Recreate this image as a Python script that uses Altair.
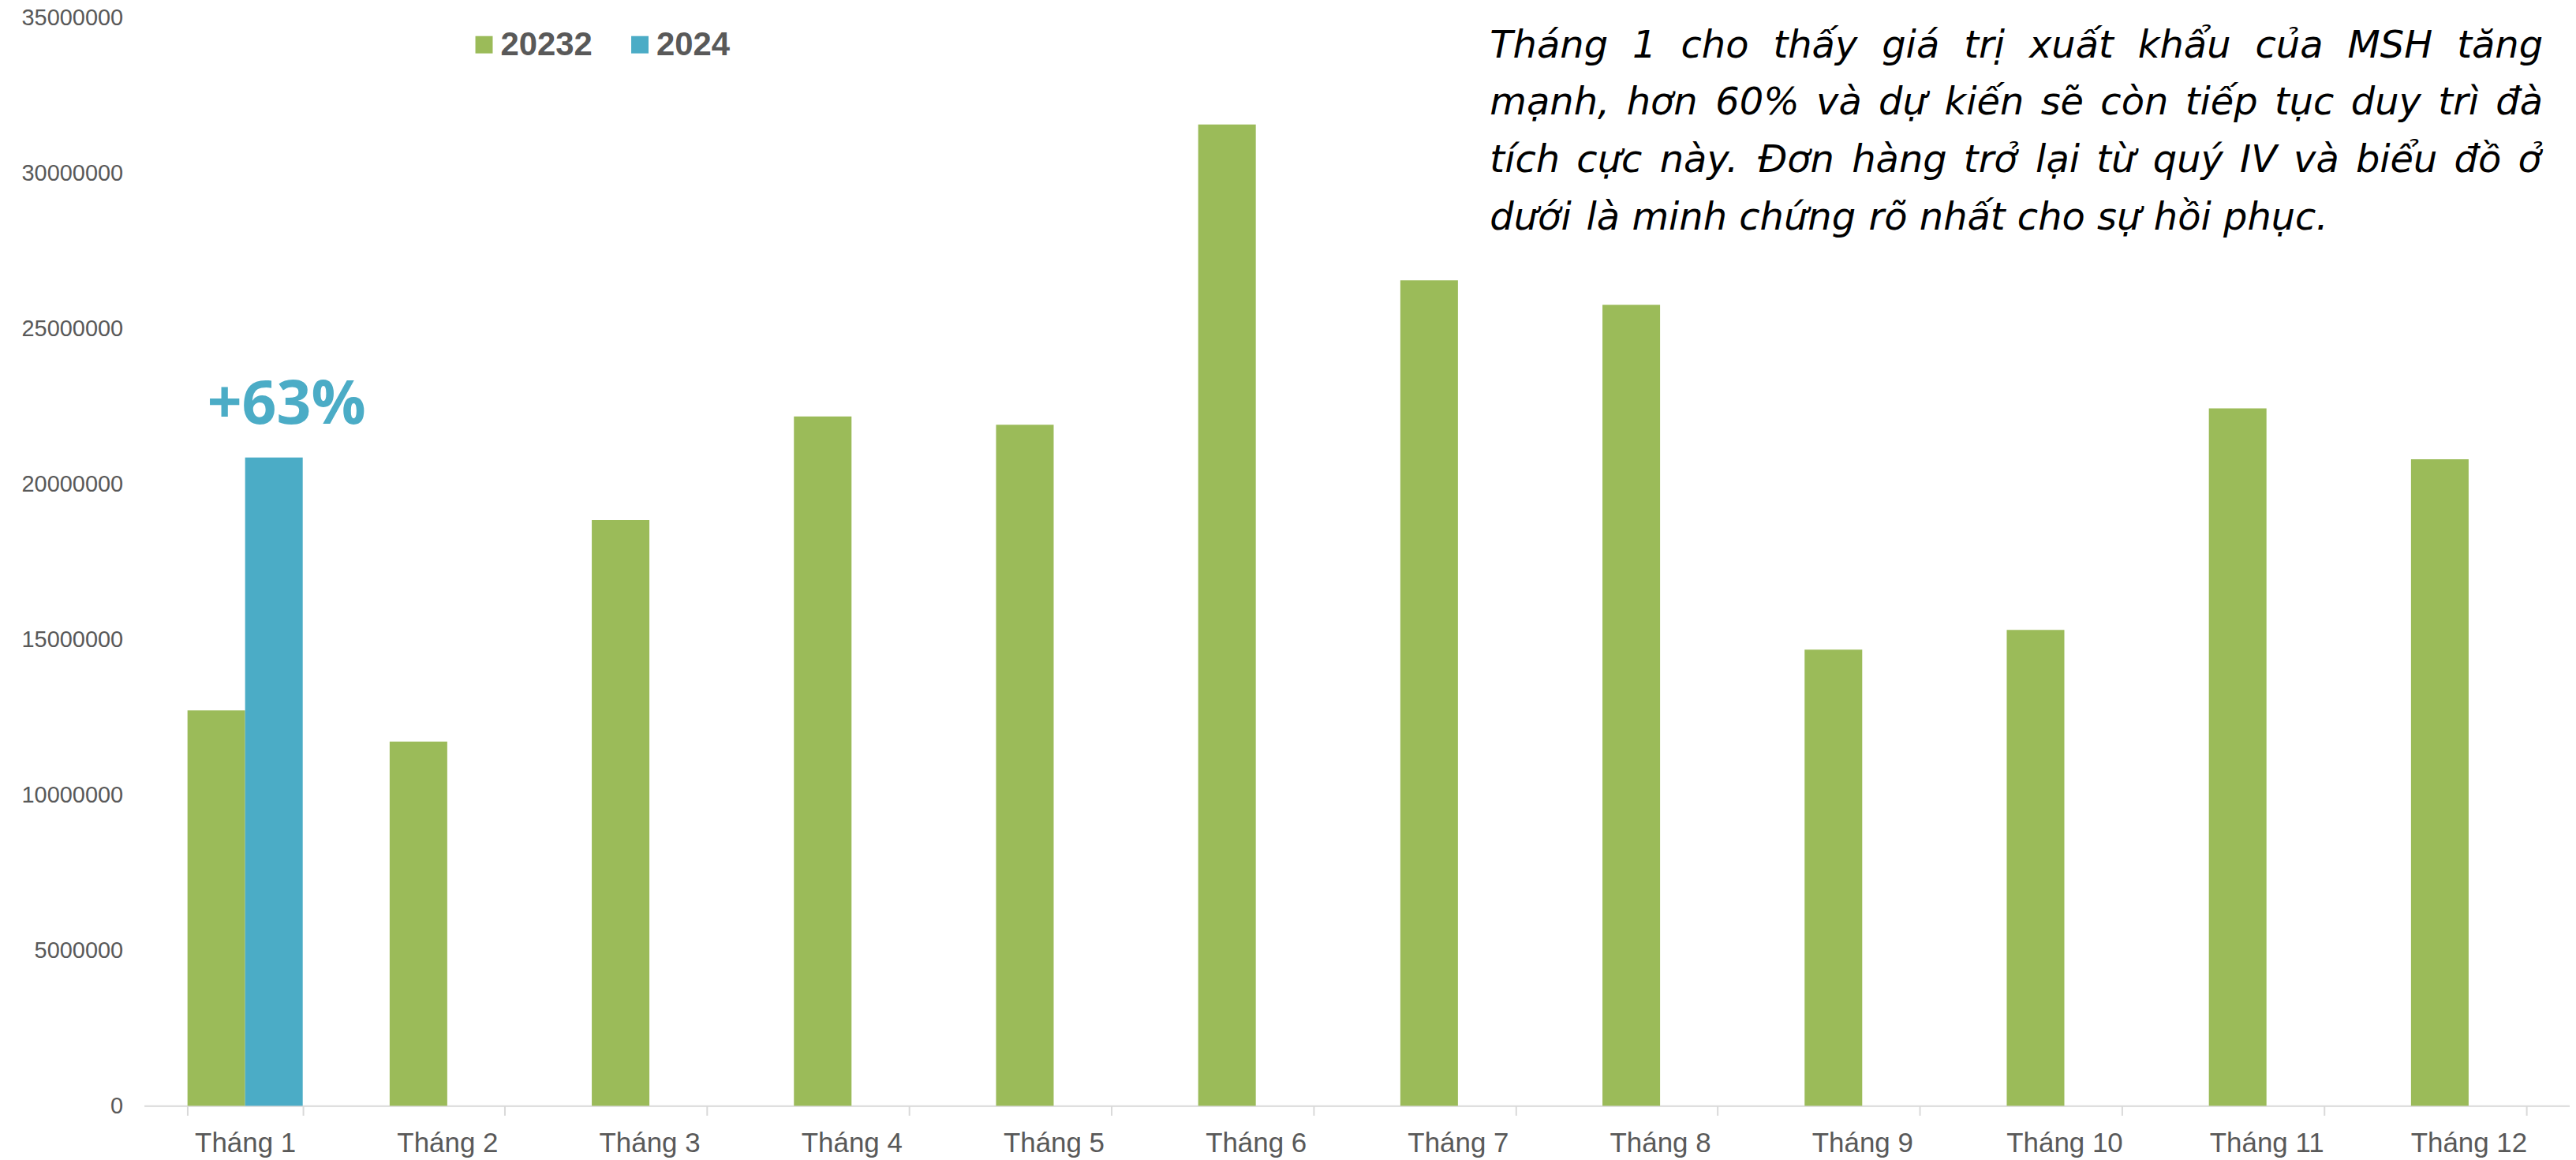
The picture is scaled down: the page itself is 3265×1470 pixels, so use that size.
import unicodedata
import altair as alt
import pandas as pd

# ---- data ----
months = ["Tháng 1", "Tháng 2", "Tháng 3", "Tháng 4", "Tháng 5", "Tháng 6",
          "Tháng 7", "Tháng 8", "Tháng 9", "Tháng 10", "Tháng 11", "Tháng 12"]
series = ["20232", "2024"]
values_2023 = [12720000, 11720000, 18850000, 22180000, 21910000, 31570000,
               26560000, 25770000, 14680000, 15310000, 22440000, 20800000]
values_2024 = [20860000]
colors = ["#9BBB59", "#4BACC6"]
y_ticks = [0, 5000000, 10000000, 15000000, 20000000, 25000000, 30000000, 35000000]
annotation = "+63%"
paragraph = [
    "Tháng 1 cho thấy giá trị xuất khẩu của MSH tăng",
    "mạnh, hơn 60% và dự kiến sẽ còn tiếp tục duy trì đà",
    "tích cực này. Đơn hàng trở lại từ quý IV và biểu đồ ở",
    "dưới là minh chứng rõ nhất cho sự hồi phục.",
]

rows = []
for m, v in zip(months, values_2023):
    rows.append({"month": m, "series": series[0], "value": v})
for m, v in zip(months, values_2024):
    rows.append({"month": m, "series": series[1], "value": v})
df = pd.DataFrame(rows)

ann_df = pd.DataFrame({"month": [months[0]], "series": [series[1]],
                       "value": [values_2024[0]], "label": [annotation]})

W, H = 3082, 1382
GRAY = "#595959"

# ---- justified paragraph layout (approximate DejaVu Sans advance widths, em) ----
PAR_FS = 48
PAR_X0, PAR_X1 = 1710, 3048
PAR_Y0, PAR_LH = 50, 73
_adv = {" ": .318, "a": .613, "b": .635, "c": .55, "d": .635, "e": .615, "f": .352,
        "g": .635, "h": .634, "i": .278, "k": .579, "l": .278, "m": .974, "n": .634,
        "o": .612, "p": .635, "q": .635, "r": .411, "s": .521, "t": .392, "u": .634,
        "v": .592, "x": .592, "y": .592, "T": .611, "M": .863, "S": .635, "H": .752,
        "I": .295, "V": .684, "Đ": .77, "đ": .635, "ư": .66, "ơ": .64, "%": .95,
        ",": .318, ".": .318}


def char_w(ch):
    if ch in _adv:
        return _adv[ch]
    base = unicodedata.normalize("NFD", ch)
    if "\u031b" in base:  # horn
        return .66
    if base[0] in _adv:
        return _adv[base[0]]
    if base[0].isdigit():
        return .636
    return .6


def word_w(w):
    return sum(char_w(c) for c in w) * PAR_FS


par_rows = []
for li, line in enumerate(paragraph):
    words = line.split(" ")
    widths = [word_w(w) for w in words]
    if li < len(paragraph) - 1:
        gap = (PAR_X1 - PAR_X0 - sum(widths)) / (len(words) - 1)
    else:
        gap = _adv[" "] * PAR_FS
    xpos = PAR_X0
    for w, ww in zip(words, widths):
        par_rows.append({"word": w, "px": xpos, "py": PAR_Y0 + li * PAR_LH})
        xpos += ww + gap
par_df = pd.DataFrame(par_rows)

x_enc = alt.X(
    "month:N", sort=months,
    scale=alt.Scale(paddingInner=0.43, paddingOuter=0.215),
    axis=alt.Axis(title=None, labelAngle=0, labelFontSize=35, labelFont="Liberation Sans",
                  labelColor=GRAY, labelPadding=18, domainColor="#d9d9d9", domainWidth=2,
                  tickColor="#d9d9d9", tickWidth=2, tickSize=12, tickBand="extent", grid=False),
)
y_enc = alt.Y(
    "value:Q",
    scale=alt.Scale(domain=[0, 35000000], nice=False),
    axis=alt.Axis(title=None, values=y_ticks, format="d", labelFontSize=29,
                  labelFont="Liberation Sans", labelColor=GRAY, ticks=False,
                  domain=False, grid=False, labelPadding=27),
)
xoff = alt.XOffset("series:N", sort=series,
                   scale=alt.Scale(domain=series, paddingInner=0, paddingOuter=0))

bars = alt.Chart(df).mark_bar().encode(
    x=x_enc, xOffset=xoff, y=y_enc,
    color=alt.Color("series:N", sort=series,
                    scale=alt.Scale(domain=series, range=colors),
                    legend=alt.Legend(title=None, orient="none", direction="horizontal",
                                      legendX=411, legendY=13, symbolType="square",
                                      symbolSize=484, symbolStrokeWidth=0,
                                      labelFontSize=42, labelFontWeight="bold",
                                      labelFont="Liberation Sans", labelColor=GRAY,
                                      labelOffset=0, columnPadding=39, padding=0)),
)

ann = alt.Chart(ann_df).mark_text(
    dy=-43, dx=16, fontSize=77, fontWeight="bold", font="Open Sans",
    color=colors[1], baseline="alphabetic", align="center",
).encode(
    x=alt.X("month:N", sort=months), xOffset=alt.XOffset("series:N", sort=series),
    y="value:Q", text="label:N",
)

par = alt.Chart(par_df).mark_text(
    align="left", baseline="alphabetic", font="DejaVu Sans", fontStyle="italic",
    fontSize=PAR_FS, color="#000000",
).encode(
    x=alt.X("px:Q", scale=None, axis=None),
    y=alt.Y("py:Q", scale=None, axis=None),
    text="word:N",
)

chart = alt.layer(bars, ann, par).properties(
    width=W, height=H,
    padding={"left": 175, "top": 13, "right": 0, "bottom": 65},
    autosize=alt.AutoSizeParams(type="none"),
    background="white",
).configure_view(strokeWidth=0, stroke="transparent")

chart.save("out.html", embed_options={"renderer": "svg", "actions": False})
